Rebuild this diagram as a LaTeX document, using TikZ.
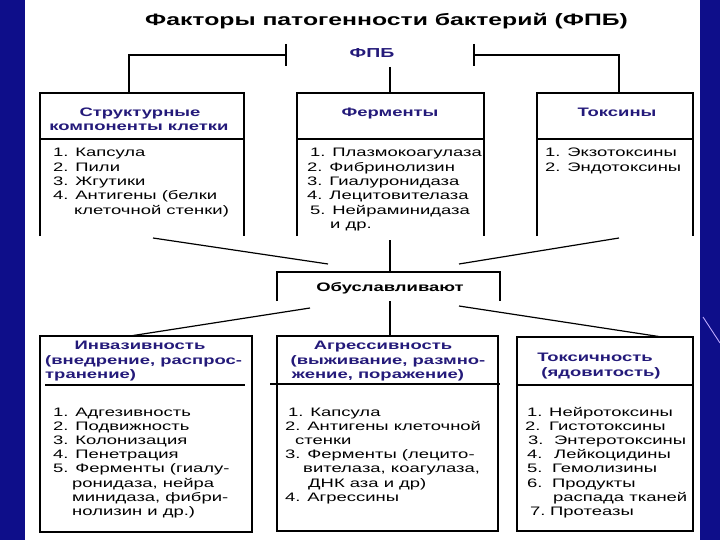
\documentclass[tikz,border=0pt]{standalone}
\usepackage{fontspec}
\setmainfont{Liberation Sans}[FakeStretch=1.5]
\definecolor{slideblue}{RGB}{14,14,138}
\definecolor{ttl}{RGB}{36,26,122}
\definecolor{lav}{RGB}{190,170,255}
\tikzset{
  body/.style={font=\fontsize{12.3}{14}\selectfont, inner sep=0pt, anchor=base west},
  hd/.style={font=\fontsize{12.3}{14}\selectfont\bfseries, text=ttl, inner sep=0pt, anchor=base},
  hdw/.style={hd, anchor=base west},
  ln/.style={line width=1.2pt, draw=black},
  area/.style={inner sep=0pt, outer sep=0pt, draw=none}
}
\begin{document}
\begin{tikzpicture}[x=1pt,y=-1pt]
\useasboundingbox (0,0) rectangle (720,540);
\fill[white] (0,0) rectangle (720,540);
\fill[slideblue] (0,0) rectangle (25,540);
\fill[slideblue] (700,0) rectangle (720,540);
\draw[lav, line width=0.9pt] (703,317) -- (720,343);

% title
\node[font=\fontsize{16.5}{20}\selectfont\bfseries, inner sep=0pt, anchor=base] (title) at (386.5,26) {Факторы патогенности бактерий (ФПБ)};
\node[hd, font=\fontsize{13}{15}\selectfont\bfseries] (fpb) at (372,57.5) {ФПБ};

% top boxes (open at bottom)
\node[area, minimum width=204pt, minimum height=143pt] (sk) at (142,164.5) {};
\node[area, minimum width=187pt, minimum height=143pt] (fe) at (390.5,164.5) {};
\node[area, minimum width=156pt, minimum height=143pt] (tx) at (615,164.5) {};
\foreach \b in {sk,fe,tx}{
  \draw[ln] (\b.south west) -- (\b.north west) -- (\b.north east) -- (\b.south east);
  \draw[ln] (\b.west |- 0,139) -- (\b.east |- 0,139);
}

% connectors from ФПБ
\coordinate (lt) at (286,44); \coordinate (lb) at (286,66); \coordinate (lm) at (286,55);
\coordinate (lk) at (129,93);
\coordinate (rt) at (474,44); \coordinate (rb) at (474,66); \coordinate (rm) at (474,55);
\coordinate (rk) at (619,93);
\coordinate (md) at (390,67);
\draw[ln] (lt) -- (lb);
\draw[ln] (lm) -| (lk);
\draw[ln] (rt) -- (rb);
\draw[ln] (rm) -| (rk);
\draw[ln] (md) -- (md |- fe.north);

% top titles
\node[hd] (sk1) at (140,116.5) {Структурные};
\node[hd] (sk2) at (139,130.5) {компоненты клетки};
\node[hd] (fe0) at (390,116.5) {Ферменты};
\node[hd] (tx0) at (617,116.5) {Токсины};

% top bodies
\node[body] (a1) at (53,157) {1. Капсула};
\node[body] (a2) at (53,171.3) {2. Пили};
\node[body] (a3) at (53,185.6) {3. Жгутики};
\node[body] (a4) at (53,199.9) {4. Антигены (белки};
\node[body] (a5) at (74,214.2) {клеточной стенки)};

\node[body] (b1) at (310,157) {1. Плазмокоагулаза};
\node[body] (b2) at (307,171.3) {2. Фибринолизин};
\node[body] (b3) at (307,185.6) {3. Гиалуронидаза};
\node[body] (b4) at (307,199.9) {4. Лецитовителаза};
\node[body] (b5) at (310,214.2) {5. Нейраминидаза};
\node[body] (b6) at (330,228.5) {и др.};

\node[body] (c1) at (545,157) {1. Экзотоксины};
\node[body] (c2) at (545,171.3) {2. Эндотоксины};

% middle box
\node[area, minimum width=223pt, minimum height=29pt] (ob) at (388.5,286.5) {};
\draw[ln] (ob.south west) -- (ob.north west) -- (ob.north east) -- (ob.south east);
\node[hd, text=black] (obt) at (390,291.5) {Обуславливают};

\coordinate (u1) at (153,238); \coordinate (u1e) at (328,264);
\coordinate (u2) at (619,238); \coordinate (u2e) at (459,264);
\coordinate (uc) at (390,240);
\draw[ln] (u1) -- (u1e);
\draw[ln] (u2) -- (u2e);
\draw[ln] (uc) -- (uc |- ob.north);

% bottom boxes
\node[area, minimum width=212pt, minimum height=196pt] (inv) at (146,434) {};
\node[area, minimum width=221pt, minimum height=195pt] (agr) at (387.5,433.5) {};
\node[area, minimum width=176pt, minimum height=194pt] (tox) at (605,434) {};
\foreach \b in {inv,agr,tox}{ \draw[ln] (\b.north west) rectangle (\b.south east); }
\draw[ln] (45,385) -- (245,385);
\draw[ln] (270,384) -- (500,384);
\draw[ln] (tox.west |- 0,385) -- (tox.east |- 0,385);

\coordinate (d1) at (310,308); \coordinate (d1e) at (130,336);
\coordinate (d2) at (459,306); \coordinate (d2e) at (662,337);
\draw[ln] (d1) -- (d1e);
\draw[ln] (d2) -- (d2e);
\draw[ln] (ob.south -| 390,0) -- (agr.north -| 390,0);

% bottom titles
\node[hd] (i1) at (140,349.5) {Инвазивность};
\node[hdw] (i2) at (45,364.5) {(внедрение, распрос-};
\node[hdw] (i3) at (45,378) {транение)};
\node[hd] (g1) at (383,349.5) {Агрессивность};
\node[hd] (g2) at (388,364.5) {(выживание, размно-};
\node[hd] (g3) at (378,378) {жение, поражение)};
\node[hd] (t1) at (595,361.5) {Токсичность};
\node[hd] (t2) at (601,376.5) {(ядовитость)};

% bottom bodies
\node[body] (p1) at (53,416) {1. Адгезивность};
\node[body] (p2) at (53,430.2) {2. Подвижность};
\node[body] (p3) at (53,444.4) {3. Колонизация};
\node[body] (p4) at (53,458.6) {4. Пенетрация};
\node[body] (p5) at (53,472.8) {5. Ферменты (гиалу-};
\node[body] (p6) at (72,487) {ронидаза, нейра};
\node[body] (p7) at (72,501.2) {минидаза, фибри-};
\node[body] (p8) at (72,515.4) {нолизин и др.)};

\node[body] (q1) at (288,416) {1. Капсула};
\node[body] (q2) at (285,430.2) {2. Антигены клеточной};
\node[body] (q3) at (295,444.4) {стенки};
\node[body] (q4) at (285,458.6) {3. Ферменты (лецито-};
\node[body] (q5) at (303,472.8) {вителаза, коагулаза,};
\node[body] (q6) at (308,487) {ДНК аза и др)};
\node[body] (q7) at (285,501.2) {4. Агрессины};

\node[body] (r1) at (527,416) {\makebox[22pt][l]{1.}Нейротоксины};
\node[body] (r2) at (525,430.2) {\makebox[24pt][l]{2.}Гистотоксины};
\node[body] (r3) at (528,444.4) {\makebox[26pt][l]{3.}Энтеротоксины};
\node[body] (r4) at (527,458.6) {\makebox[27pt][l]{4.}Лейкоцидины};
\node[body] (r5) at (527,472.8) {\makebox[25pt][l]{5.}Гемолизины};
\node[body] (r6) at (527,487) {\makebox[25pt][l]{6.}Продукты};
\node[body] (r7) at (553,501.2) {распада тканей};
\node[body] (r8) at (530,515.4) {\makebox[20pt][l]{7.}Протеазы};
\end{tikzpicture}
\end{document}
